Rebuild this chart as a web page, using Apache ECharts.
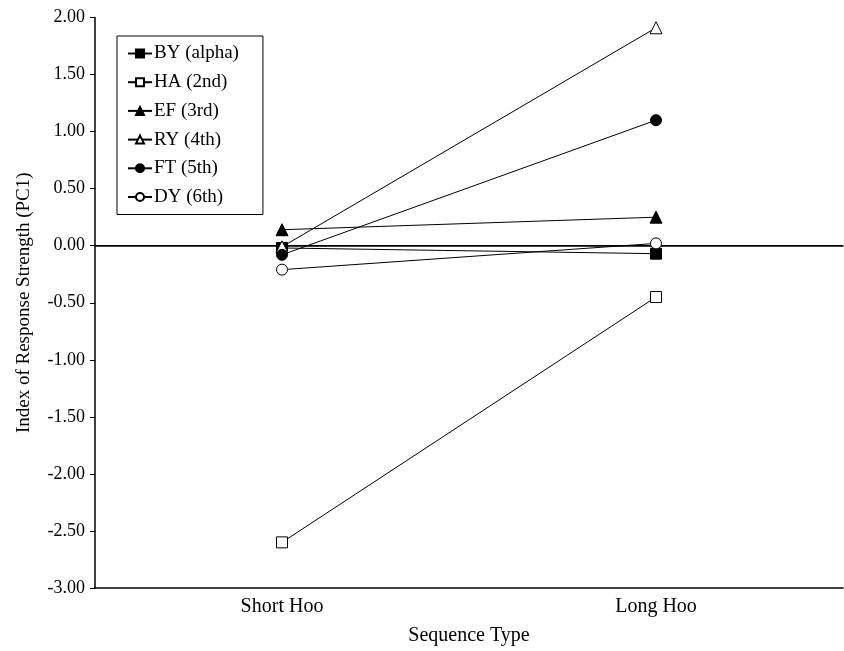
<!DOCTYPE html>
<html>
<head>
<meta charset="utf-8">
<script src="https://cdn.jsdelivr.net/npm/echarts@6/dist/echarts.min.js"></script>
<style>
  html, body { margin: 0; padding: 0; background: #fff; }
  #main { width: 844px; height: 651px; }
</style>
</head>
<body>
<div id="main"></div>
<script>
var categories = ['Short Hoo', 'Long Hoo'];
var names = ['BY (alpha)', 'HA (2nd)', 'EF (3rd)', 'RY (4th)', 'FT (5th)', 'DY (6th)'];
var byData = [-0.02, -0.07];
var haData = [-2.60, -0.45];
var efData = [0.14, 0.25];
var ryData = [-0.01, 1.91];
var ftData = [-0.08, 1.10];
var dyData = [-0.21, 0.02];

var font = 'Liberation Serif';
var markers = [
  { symbol: 'rect', fill: '#000' },
  { symbol: 'rect', fill: '#fff' },
  { symbol: 'triangle', fill: '#000' },
  { symbol: 'triangle', fill: '#fff' },
  { symbol: 'circle', fill: '#000' },
  { symbol: 'circle', fill: '#fff' }
];
var allData = [byData, haData, efData, ryData, ftData, dyData];

var series = names.map(function (n, i) {
  return {
    name: n,
    type: 'line',
    data: allData[i],
    symbol: markers[i].symbol,
    symbolSize: markers[i].symbol === 'triangle' ? 12 : 11,
    lineStyle: { color: '#000', width: 1 },
    itemStyle: { color: markers[i].fill, borderColor: '#000', borderWidth: 1 },
    z: 3 + i,
    animation: false
  };
});
// zero reference line
series.push({
  type: 'line',
  data: [],
  silent: true,
  markLine: {
    symbol: 'none',
    silent: true,
    label: { show: false },
    lineStyle: { color: '#000', width: 1, type: 'solid' },
    data: [{ yAxis: 0 }]
  },
  animation: false
});

var myChart = echarts.init(document.getElementById('main'));
myChart.setOption({
  backgroundColor: '#fff',
  textStyle: { fontFamily: font },
  grid: { left: 95, right: 1, top: 17.5, bottom: 61.5 },
  legend: {
    data: names,
    orient: 'vertical',
    left: 117,
    top: 36,
    itemWidth: 24,
    itemHeight: 10,
    itemGap: 9.7,
    padding: [8, 24, 8, 10],
    borderColor: '#000',
    borderWidth: 1,
    textStyle: { fontFamily: font, fontSize: 19, color: '#000', padding: [0, 0, 0, -3] }
  },
  xAxis: [{
    type: 'category',
    data: categories,
    name: 'Sequence Type',
    nameLocation: 'middle',
    nameGap: 38,
    nameTextStyle: { fontFamily: font, fontSize: 20, color: '#000' },
    axisLine: { onZero: false, lineStyle: { color: '#000', width: 1.5 } },
    axisTick: { show: false },
    axisLabel: { fontFamily: font, fontSize: 20, color: '#000', margin: 9 }
  }, {
    type: 'category',
    data: categories,
    position: 'top',
    axisLine: { show: true, lineStyle: { color: '#000', width: 1.5 } },
    axisTick: { show: false },
    axisLabel: { show: false }
  }],
  yAxis: {
    type: 'value',
    min: -3,
    max: 2,
    interval: 0.5,
    name: 'Index of Response Strength (PC1)',
    nameLocation: 'middle',
    nameGap: 61,
    nameTextStyle: { fontFamily: font, fontSize: 19, color: '#000' },
    axisLine: { show: true, lineStyle: { color: '#000', width: 1.5 } },
    axisTick: { show: true, inside: false, length: 5, lineStyle: { color: '#000' } },
    splitLine: { show: false },
    axisLabel: {
      fontFamily: font, fontSize: 18, color: '#000', margin: 10,
      formatter: function (v) { return v.toFixed(2); }
    }
  },
  series: series
});
</script>
</body>
</html>
